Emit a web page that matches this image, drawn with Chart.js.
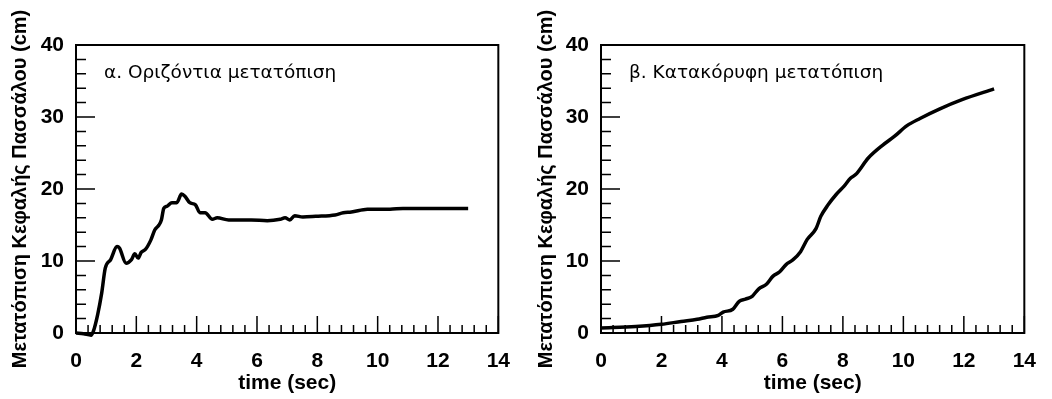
<!DOCTYPE html>
<html>
<head>
<meta charset="utf-8">
<script src="https://cdn.jsdelivr.net/npm/chart.js@4.4.1/dist/chart.umd.min.js"></script>
<style>
  body { margin: 0; background: #fff; }
  .box { position: absolute; top: 0; width: 526px; height: 399px; }
</style>
</head>
<body>
<div class="box" style="left:0"><canvas id="horiz"></canvas></div>
<div class="box" style="left:526px"><canvas id="vert"></canvas></div>
<script>
// α. οριζόντια μετατόπιση (cm) στο χρόνο (sec)
const timeA = [0, 0.25, 0.5, 0.58, 0.72, 0.85, 0.97, 1.15, 1.36, 1.44, 1.66, 1.84, 1.95, 2.06, 2.16, 2.3,
  2.48, 2.61, 2.75, 2.83, 2.91, 3.02, 3.18, 3.34, 3.5, 3.61, 3.77, 3.96, 4.11, 4.28, 4.52, 4.68,
  5.06, 5.81, 6.34, 6.77, 6.93, 7.09, 7.25, 7.52, 7.95, 8.59, 8.86, 9.13, 9.66, 10.41, 10.84, 13.0];
const dispA = [0, -0.1, -0.3, 0.3, 2.6, 5.5, 9.0, 10.2, 12.0, 11.8, 9.7, 10.2, 11.0, 10.4, 11.2, 11.6,
  12.9, 14.3, 15.0, 15.7, 17.3, 17.6, 18.1, 18.1, 19.3, 19.0, 18.1, 17.8, 16.7, 16.7, 15.8, 16.0,
  15.7, 15.7, 15.6, 15.8, 16.0, 15.7, 16.3, 16.1, 16.2, 16.4, 16.7, 16.8, 17.2, 17.2, 17.3, 17.3];

// β. κατακόρυφη μετατόπιση
const timeB = [0, 1.15, 2.0, 2.65, 3.18, 3.5, 3.88, 4.04, 4.36, 4.57, 4.78, 5.0, 5.21, 5.48, 5.69,
  5.91, 6.12, 6.33, 6.6, 6.82, 7.11, 7.27, 7.51, 7.77, 8.04, 8.25, 8.42, 8.84, 9.32, 9.7, 10.12,
  10.55, 11.19, 11.94, 13.0];
const dispB = [0.7, 0.9, 1.2, 1.6, 1.9, 2.2, 2.45, 2.9, 3.3, 4.4, 4.7, 5.1, 6.1, 6.8, 7.9,
  8.5, 9.5, 10.1, 11.3, 13.0, 14.5, 16.2, 17.8, 19.2, 20.4, 21.5, 22.0, 24.3, 26.1, 27.3, 28.8,
  29.8, 31.1, 32.4, 33.9];

const xTicks = [0, 2, 4, 6, 8, 10, 12, 14];
const yTicks = [0, 10, 20, 30, 40];
const xMinorStep = 0.4;
const yMinorStep = 2;

const boldFont = { family: "'Liberation Sans', Arial, sans-serif", weight: 'bold' };

// πλαίσιο, εσωτερικές υποδιαιρέσεις και ετικέτα μέσα στο γράφημα
const framePlugin = {
  id: 'frame',
  beforeDatasetsDraw(chart, args, opts) {
    const { ctx, chartArea: a, scales: { x, y } } = chart;
    ctx.save();
    ctx.strokeStyle = '#000';
    ctx.lineWidth = 1.5;
    ctx.beginPath();
    for (let v = x.min; v <= x.max + 1e-6; v += xMinorStep) {
      const px = x.getPixelForValue(v);
      const major = xTicks.some(t => Math.abs(t - v) < 1e-6);
      ctx.moveTo(px, a.bottom);
      ctx.lineTo(px, a.bottom - (major ? 17 : 8));
    }
    for (let v = y.min; v <= y.max + 1e-6; v += yMinorStep) {
      const py = y.getPixelForValue(v);
      const major = yTicks.some(t => Math.abs(t - v) < 1e-6);
      ctx.moveTo(a.left, py);
      ctx.lineTo(a.left + (major ? 19 : 10), py);
    }
    ctx.stroke();
    ctx.lineWidth = 2;
    ctx.strokeRect(a.left, a.top, a.right - a.left, a.bottom - a.top);
    ctx.fillStyle = '#000';
    ctx.font = "18.5px 'DejaVu Sans', sans-serif";
    ctx.textBaseline = 'middle';
    ctx.fillText(opts.text, a.left + 28, a.top + 28);
    ctx.restore();
  }
};

function makeChart(el, times, values, label, leftWidth) {
  return new Chart(el, {
    type: 'line',
    data: {
      datasets: [{
        data: times.map((t, i) => ({ x: t, y: values[i] })),
        borderColor: '#000',
        borderWidth: 3.5,
        pointRadius: 0,
        cubicInterpolationMode: 'monotone',
        clip: 6,
        fill: false
      }]
    },
    options: {
      responsive: true,
      maintainAspectRatio: false,
      animation: false,
      layout: { padding: { top: 45, right: 14, left: 0, bottom: 0 } },
      plugins: {
        legend: { display: false },
        tooltip: { enabled: false },
        frame: { text: label }
      },
      scales: {
        x: {
          type: 'linear',
          min: 0, max: 14,
          afterBuildTicks: s => { s.ticks = xTicks.map(v => ({ value: v })); },
          afterFit: s => { s.height = 66; },
          grid: { display: false, drawTicks: false },
          border: { display: false },
          ticks: { color: '#000', font: { ...boldFont, size: 21 }, padding: 16 },
          title: { display: true, text: 'time (sec)', color: '#000', font: { ...boldFont, size: 21 }, padding: { top: 0, bottom: 3 } }
        },
        y: {
          min: 0, max: 40,
          afterBuildTicks: s => { s.ticks = yTicks.map(v => ({ value: v })); },
          afterFit: s => { s.width = leftWidth; },
          grid: { display: false, drawTicks: false },
          border: { display: false },
          ticks: { color: '#000', font: { ...boldFont, size: 21 }, padding: 12 },
          title: { display: true, text: 'Μετατόπιση Κεφαλής Πασσάλου (cm)', color: '#000', font: { ...boldFont, size: 20 }, padding: { top: 8, bottom: 0 } }
        }
      }
    },
    plugins: [framePlugin]
  });
}

makeChart(document.getElementById('horiz'), timeA, dispA, 'α. Οριζόντια μετατόπιση', 76);
makeChart(document.getElementById('vert'), timeB, dispB, 'β. Κατακόρυφη μετατόπιση', 75);
</script>
</body>
</html>
